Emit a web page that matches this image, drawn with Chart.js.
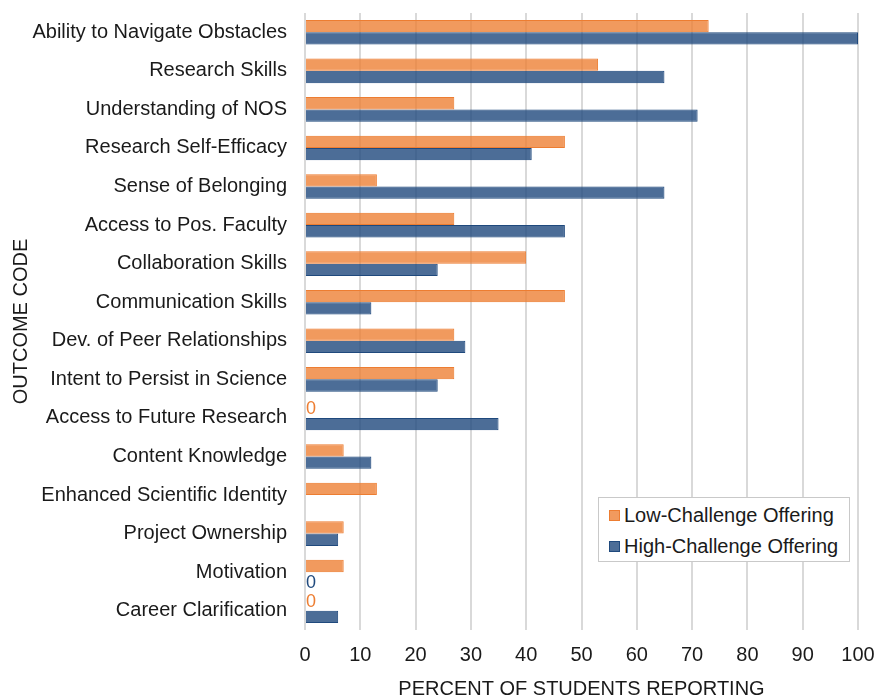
<!DOCTYPE html>
<html>
<head>
<meta charset="utf-8">
<script src="https://cdn.jsdelivr.net/npm/chart.js@4.4.1/dist/chart.umd.min.js"></script>
<style>
  html, body { margin: 0; padding: 0; background: #fff; }
  #wrap { position: relative; width: 876px; height: 699px; }
  #legend {
    position: absolute; left: 598px; top: 497px; width: 252px; height: 65px;
    border: 1px solid #c9c9c9; background: #fff; box-sizing: border-box;
    font-family: "Liberation Sans", Arial, sans-serif; font-size: 20px; color: #1a1a1a;
    padding: 2px 0 0 10px;
  }
  #legend div { height: 31px; display: flex; align-items: center; white-space: nowrap; }
  #legend span { display: inline-block; width: 11px; height: 11px; margin-right: 4px; box-sizing: border-box; }
</style>
</head>
<body>
<div id="wrap">
  <canvas id="chart" width="876" height="699"></canvas>
  <div id="legend"></div>
</div>
<script>
const categories = [
    'Ability to Navigate Obstacles',
    'Research Skills',
    'Understanding of NOS',
    'Research Self-Efficacy',
    'Sense of Belonging',
    'Access to Pos. Faculty',
    'Collaboration Skills',
    'Communication Skills',
    'Dev. of Peer Relationships',
    'Intent to Persist in Science',
    'Access to Future Research',
    'Content Knowledge',
    'Enhanced Scientific Identity',
    'Project Ownership',
    'Motivation',
    'Career Clarification'
];
const lowChallenge = [73, 53, 27, 47, 13, 27, 40, 47, 27, 27, 0, 7, 13, 7, 7, 0];
const highChallenge = [100, 65, 71, 41, 65, 47, 24, 12, 29, 24, 35, 12, null, 6, 0, 6];
const xTicks = [0, 10, 20, 30, 40, 50, 60, 70, 80, 90, 100];

const colors = {
    orange: '#ed7d31',
    orangeFill: 'rgba(237, 125, 49, 0.78)',
    blue: '#1f497d',
    blueFill: 'rgba(31, 73, 125, 0.8)',
    grid: '#d9d9d9',
    text: '#1a1a1a'
};
const font = '"Liberation Sans", Arial, sans-serif';

/* draws a "0" where a value is exactly zero, nudged away from the other bar */
const zeroLabels = {
    id: 'zeroLabels',
    afterDatasetsDraw(chart) {
        const ctx = chart.ctx;
        const x0 = chart.scales.x.getPixelForValue(0);
        chart.data.datasets.forEach((ds, i) => {
            const meta = chart.getDatasetMeta(i);
            const nudge = i === 0 ? -4 : 4;
            ds.data.forEach((v, j) => {
                if (v !== 0) return;
                ctx.save();
                ctx.fillStyle = ds.borderColor;
                ctx.font = '18px ' + font;
                ctx.textAlign = 'left';
                ctx.textBaseline = 'middle';
                ctx.fillText('0', x0 + 1, meta.data[j].y + nudge + 1);
                ctx.restore();
            });
        });
    }
};

const chart = new Chart(document.getElementById('chart'), {
    type: 'bar',
    data: {
        labels: categories,
        datasets: [
            {
                label: 'Low-Challenge Offering',
                data: lowChallenge,
                backgroundColor: colors.orangeFill,
                borderColor: colors.orange,
                borderWidth: 1,
                categoryPercentage: 0.64,
                barPercentage: 1.0
            },
            {
                label: 'High-Challenge Offering',
                data: highChallenge,
                backgroundColor: colors.blueFill,
                borderColor: colors.blue,
                borderWidth: 1,
                categoryPercentage: 0.64,
                barPercentage: 1.0
            }
        ]
    },
    options: {
        indexAxis: 'y',
        responsive: false,
        animation: false,
        layout: { padding: { top: 13, right: 18, left: 0, bottom: 0 } },
        scales: {
            x: {
                min: 0,
                max: 100,
                afterBuildTicks: (axis) => { axis.ticks = xTicks.map(v => ({ value: v })); },
                grid: { color: colors.grid, lineWidth: 2, drawTicks: false },
                border: { display: false },
                ticks: { color: colors.text, font: { family: font, size: 20 }, padding: 13 },
                title: {
                    display: true,
                    text: 'PERCENT OF STUDENTS REPORTING',
                    color: colors.text,
                    font: { family: font, size: 20, lineHeight: 1 },
                    padding: { top: 0, bottom: 0 }
                },
                afterFit: (s) => {
                    s.height = 69;
                    s.paddingLeft = 0;
                    s.paddingRight = 0;
                }
            },
            y: {
                grid: { display: false, drawTicks: false },
                border: { display: false },
                ticks: { color: colors.text, font: { family: font, size: 20 }, padding: 18, autoSkip: false },
                title: {
                    display: true,
                    text: 'OUTCOME CODE',
                    color: colors.text,
                    font: { family: font, size: 20 },
                    padding: { top: 9, bottom: 0 }
                },
                afterFit: (s) => {
                    s.width = 305;
                    s.paddingTop = 0;
                    s.paddingBottom = 0;
                }
            }
        },
        plugins: {
            legend: { display: false },
            tooltip: { enabled: false }
        }
    },
    plugins: [zeroLabels]
});

// legend in the lower right of the plot
const legendEl = document.getElementById('legend');
chart.data.datasets.forEach(ds => {
    const row = document.createElement('div');
    const sw = document.createElement('span');
    sw.style.background = ds.backgroundColor;
    sw.style.border = '1px solid ' + ds.borderColor;
    row.appendChild(sw);
    row.appendChild(document.createTextNode(ds.label));
    legendEl.appendChild(row);
});
</script>
</body>
</html>
